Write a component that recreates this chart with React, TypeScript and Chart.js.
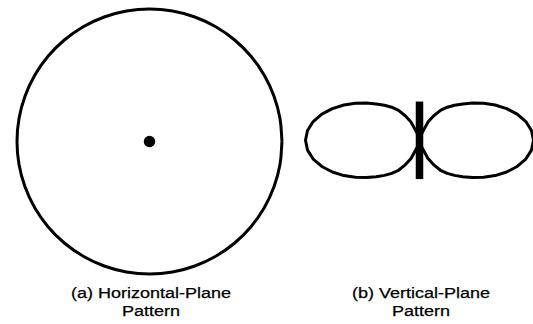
import React, { useEffect, useRef } from "react";
import { Chart, registerables } from "chart.js";

Chart.register(...registerables);

// Horizontal-plane pattern: relative gain vs azimuth (omnidirectional)
const AZIMUTH_DEG = [0, 10, 20, 30, 40, 50, 60, 70, 80, 90, 100, 110, 120, 130, 140, 150, 160, 170, 180, 190, 200, 210, 220, 230, 240, 250, 260, 270, 280, 290, 300, 310, 320, 330, 340, 350];
const HORIZONTAL_GAIN = [1, 1, 1, 1, 1, 1, 1, 1, 1, 1, 1, 1, 1, 1, 1, 1, 1, 1, 1, 1, 1, 1, 1, 1, 1, 1, 1, 1, 1, 1, 1, 1, 1, 1, 1, 1];

// Vertical-plane pattern: relative gain vs angle (figure-eight), 5° steps
const ELEVATION_DEG = [
  0, 5, 10, 15, 20, 25, 30, 35, 40, 45, 50, 55, 60, 65, 70, 75, 80, 85,
  90, 95, 100, 105, 110, 115, 120, 125, 130, 135, 140, 145, 150, 155, 160, 165, 170, 175,
  180, 185, 190, 195, 200, 205, 210, 215, 220, 225, 230, 235, 240, 245, 250, 255, 260, 265,
  270, 275, 280, 285, 290, 295, 300, 305, 310, 315, 320, 325, 330, 335, 340, 345, 350, 355,
];
const VERTICAL_GAIN = [
  1.0, 0.986, 0.947, 0.887, 0.813, 0.732, 0.649, 0.569, 0.496, 0.435, 0.379, 0.321, 0.246, 0.176, 0.077, 0.04, 0.02, 0.01,
  0, 0.01, 0.02, 0.04, 0.077, 0.176, 0.246, 0.321, 0.379, 0.435, 0.496, 0.569, 0.649, 0.732, 0.813, 0.887, 0.947, 0.986,
  1.0, 0.986, 0.947, 0.887, 0.813, 0.732, 0.649, 0.569, 0.496, 0.435, 0.379, 0.321, 0.246, 0.176, 0.077, 0.04, 0.02, 0.01,
  0, 0.01, 0.02, 0.04, 0.077, 0.176, 0.246, 0.321, 0.379, 0.435, 0.496, 0.569, 0.649, 0.732, 0.813, 0.887, 0.947, 0.986,
];

// Antenna (feed point and vertical element)
const FEED_POINT = [0, 0];
const ELEMENT_EXTENT = [-0.34, 0.34];

// Captions
const CAPTION_A = ["(a) Horizontal-Plane", "Pattern"];
const CAPTION_B = ["(b) Vertical-Plane", "Pattern"];

function polarToXY(angles: number[], gains: number[]) {
  const pts = angles.map((a, i) => {
    const t = (a * Math.PI) / 180;
    return { x: gains[i] * Math.cos(t), y: gains[i] * Math.sin(t) };
  });
  pts.push({ ...pts[0] });
  return pts;
}

function baseOptions(xmin: number, xmax: number, ymin: number, ymax: number): any {
  return {
    responsive: false,
    maintainAspectRatio: false,
    animation: false,
    layout: { padding: 0, autoPadding: false },
    plugins: { legend: { display: false }, tooltip: { enabled: false }, title: { display: false } },
    scales: {
      x: { type: "linear", display: false, min: xmin, max: xmax },
      y: { type: "linear", display: false, min: ymin, max: ymax },
    },
    events: [],
  };
}

function PatternChart({ config, style, width, height }: any) {
  const ref = useRef<HTMLCanvasElement | null>(null);
  useEffect(() => {
    if (!ref.current) return;
    const chart = new Chart(ref.current, config);
    return () => chart.destroy();
  }, []);
  return <canvas ref={ref} width={width} height={height} style={{ position: "absolute", ...style, width, height }} />;
}

function Caption({ lines, cx }: { lines: string[]; cx: number }) {
  return (
    <div
      style={{
        position: "absolute",
        left: cx - 150,
        top: 283.8,
        width: 300,
        textAlign: "center",
        fontFamily: "'Liberation Sans', Arial, sans-serif",
        fontSize: "15.4px",
        lineHeight: "18.4px",
        color: "#000",
        transform: "scaleX(1.17)",
        transformOrigin: "center",
        whiteSpace: "nowrap",
        WebkitTextStroke: "0.25px #000",
      }}
    >
      {lines.map((l, i) => (
        <div key={i}>{l}</div>
      ))}
    </div>
  );
}

export default function App() {
  // Horizontal pattern chart geometry
  const aW = 300, aH = 284, aCx = 149.5, aCy = 141.5, aPx = 132.5;
  const configA: any = {
    type: "scatter",
    data: {
      datasets: [
        {
          data: polarToXY(AZIMUTH_DEG, HORIZONTAL_GAIN),
          showLine: true,
          borderColor: "#000",
          borderWidth: 3,
          pointRadius: 0,
          tension: 0.4,
          fill: false,
          clip: false,
        },
        {
          data: [{ x: FEED_POINT[0], y: FEED_POINT[1] }],
          showLine: false,
          pointRadius: 5.7,
          pointBackgroundColor: "#000",
          pointBorderColor: "#000",
          pointBorderWidth: 0,
          clip: false,
        },
      ],
    },
    options: baseOptions(-aCx / aPx, (aW - aCx) / aPx, -(aH - aCy) / aPx, aCy / aPx),
  };

  // Vertical pattern chart geometry
  const bLeft = 290, bW = 243, bH = 284, bCx = 419.5 - bLeft, bCy = 140.3, bPx = 114;
  const configB: any = {
    type: "scatter",
    data: {
      datasets: [
        {
          data: polarToXY(ELEVATION_DEG, VERTICAL_GAIN),
          showLine: true,
          borderColor: "#000",
          borderWidth: 3,
          borderJoinStyle: "round",
          pointRadius: 0,
          tension: 0,
          fill: false,
          clip: false,
        },
        {
          data: ELEMENT_EXTENT.map((v) => ({ x: FEED_POINT[0], y: v })),
          showLine: true,
          borderColor: "#000",
          borderWidth: 7.5,
          borderCapStyle: "butt",
          pointRadius: 0,
          clip: false,
        },
      ],
    },
    options: baseOptions(-bCx / bPx, (bW - bCx) / bPx, -(bH - bCy) / bPx, bCy / bPx),
  };

  return (
    <div
      style={{
        position: "fixed",
        left: 0,
        top: 0,
        width: 533,
        height: 324,
        overflow: "hidden",
        background: "#fff",
      }}
    >
      <PatternChart config={configA} width={aW} height={aH} style={{ left: 0, top: 0 }} />
      <PatternChart config={configB} width={bW} height={bH} style={{ left: bLeft, top: 0 }} />
      <Caption lines={CAPTION_A} cx={150.5} />
      <Caption lines={CAPTION_B} cx={420.5} />
    </div>
  );
}
